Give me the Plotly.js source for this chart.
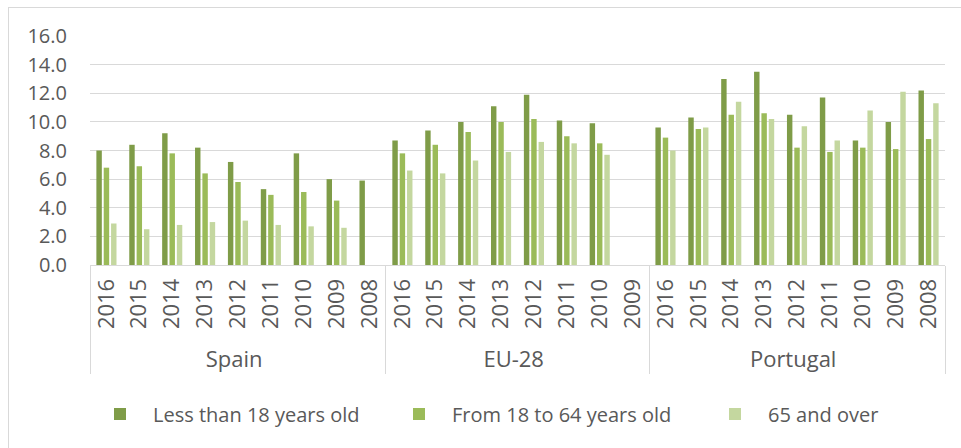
<!DOCTYPE html>
<html>
<head>
<meta charset="utf-8">
<script src="https://cdn.plot.ly/plotly-3.0.1.min.js"></script>
<style>
  html, body { margin: 0; padding: 0; background: #ffffff; }
  #frame { position: absolute; left: 8px; top: 7px; width: 1000px; height: 500px;
           border-left: 1px solid #d9d9d9; border-top: 1px solid #d9d9d9; }
  #chart { position: absolute; left: 0; top: 0; width: 961px; height: 448px; }
</style>
</head>
<body>
<div id="frame"></div>
<div id="chart"></div>
<script>
// ---- data ----
const groups = ['Spain', 'EU-28', 'Portugal'];
const spainYears = ['2016','2015','2014','2013','2012','2011','2010','2009','2008'];
const euYears = ['2016','2015','2014','2013','2012','2011','2010','2009'];
const portugalYears = ['2016','2015','2014','2013','2012','2011','2010','2009','2008'];

const seriesNames = ['Less than 18 years old', 'From 18 to 64 years old', '65 and over'];

const spainUnder18 = [8.0, 8.4, 9.2, 8.2, 7.2, 5.3, 7.8, 6.0, 5.9];
const spain18to64 = [6.8, 6.9, 7.8, 6.4, 5.8, 4.9, 5.1, 4.5, null];
const spain65plus = [2.9, 2.5, 2.8, 3.0, 3.1, 2.8, 2.7, 2.6, null];

const euUnder18 = [8.7, 9.4, 10.0, 11.1, 11.9, 10.1, 9.9, null];
const eu18to64 = [7.8, 8.4, 9.3, 10.0, 10.2, 9.0, 8.5, null];
const eu65plus = [6.6, 6.4, 7.3, 7.9, 8.6, 8.5, 7.7, null];

const portugalUnder18 = [9.6, 10.3, 13.0, 13.5, 10.5, 11.7, 8.7, 10.0, 12.2];
const portugal18to64 = [8.9, 9.5, 10.5, 10.6, 8.2, 7.9, 8.2, 8.1, 8.8];
const portugal65plus = [8.0, 9.6, 11.4, 10.2, 9.7, 8.7, 10.8, 12.1, 11.3];

const colors = ['#7f9c48', '#9bbb59', '#c4d79f'];

// ---- build multicategory x ----
const yearLists = [spainYears, euYears, portugalYears];
const outer = [], inner = [];
yearLists.forEach((ys, gi) => ys.forEach(y => { outer.push(groups[gi]); inner.push(y); }));

const seriesValues = [
  spainUnder18.concat(euUnder18, portugalUnder18),
  spain18to64.concat(eu18to64, portugal18to64),
  spain65plus.concat(eu65plus, portugal65plus)
];

const legendIds = ['legend', 'legend2', 'legend3'];
const traces = seriesValues.map((vals, i) => ({
  type: 'bar',
  name: seriesNames[i],
  x: [outer, inner],
  y: vals,
  marker: { color: colors[i], line: { width: 0 } },
  legend: legendIds[i],
  hoverinfo: 'y+name'
}));

const font = { family: 'Open Sans, sans-serif', size: 20, color: '#595959' };
const xfont = { family: 'Open Sans, sans-serif', size: 22, color: '#595959' };
const legendBase = {
  orientation: 'h', xref: 'container', yref: 'container',
  yanchor: 'middle', xanchor: 'left', y: 0.076,
  itemwidth: 56,
  font: { family: 'Open Sans, sans-serif', size: 20, color: '#595959' },
  bgcolor: 'rgba(0,0,0,0)', borderwidth: 0
};

const layout = {
  width: 961, height: 448,
  margin: { l: 90, r: 16, t: 36, b: 183, pad: 0 },
  paper_bgcolor: 'rgba(0,0,0,0)',
  plot_bgcolor: 'rgba(0,0,0,0)',
  font: font,
  barmode: 'group',
  bargap: 0.33,
  bargroupgap: 0.26,
  xaxis: {
    type: 'multicategory',
    tickangle: -90,
    ticks: '',
    ticklabelstandoff: 4,
    showgrid: false,
    showline: true, linecolor: '#d9d9d9', linewidth: 1,
    showdividers: true, dividercolor: '#d9d9d9', dividerwidth: 1,
    tickfont: xfont,
    zeroline: false
  },
  yaxis: {
    range: [0, 16],
    dtick: 2,
    tick0: 0,
    tickformat: '.1f',
    showgrid: true, gridcolor: '#d9d9d9', gridwidth: 1,
    zeroline: false,
    showline: false,
    ticks: '',
    ticklabelstandoff: 22,
    tickfont: font
  },
  legend: Object.assign({}, legendBase, { x: 87 / 961 }),
  legend2: Object.assign({}, legendBase, { x: 386 / 961 }),
  legend3: Object.assign({}, legendBase, { x: 702 / 961 }),
  showlegend: true
};

Plotly.newPlot('chart', traces, layout, { displayModeBar: false, staticPlot: true });
</script>
</body>
</html>
